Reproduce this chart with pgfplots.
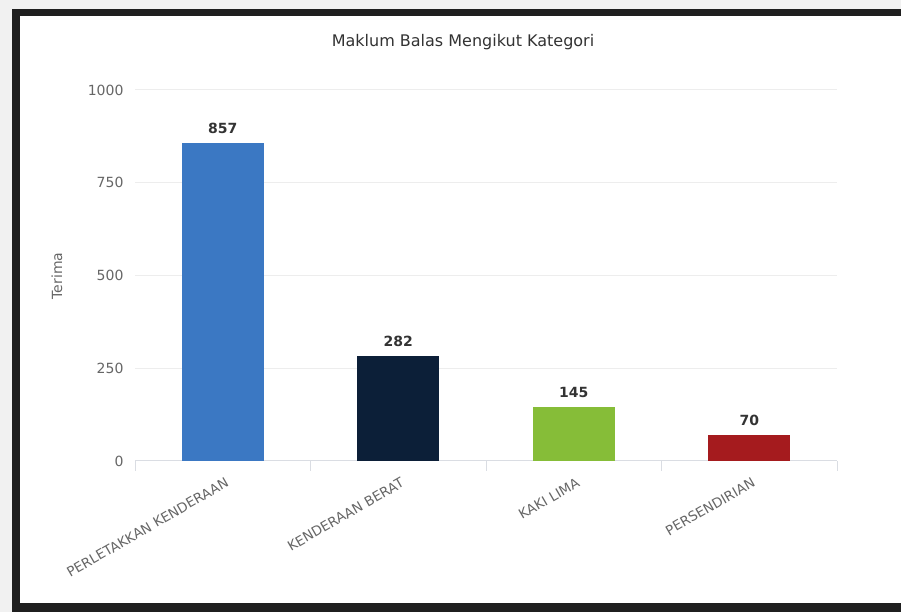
\documentclass[border=0pt]{standalone}
\usepackage{fontspec}
\setmainfont{DejaVu Sans}
\usepackage{pgfplots}
\pgfplotsset{compat=1.18}

\definecolor{outerbg}{HTML}{F1F1F1}
\definecolor{framec}{HTML}{1F1F1F}
\definecolor{gridc}{HTML}{EDEDED}
\definecolor{axisc}{HTML}{DADDE3}
\definecolor{labc}{HTML}{666666}
\definecolor{titlec}{HTML}{333333}
\definecolor{cblue}{HTML}{3B78C3}
\definecolor{cnavy}{HTML}{0C1F38}
\definecolor{cgreen}{HTML}{86BD38}
\definecolor{cred}{HTML}{A51B1E}

\begin{document}
\begin{tikzpicture}[x=1pt,y=1pt]
% frame around the chart
\fill[outerbg] (0,0) rectangle (901,612);
\fill[framec] (12,0) rectangle (901,603);
\fill[white] (20,9) rectangle (901,596);
\useasboundingbox (0,0) rectangle (901,612);

\node[text=titlec, font=\fontsize{16}{19}\selectfont] at (463,570) {Maklum Balas Mengikut Kategori};
\node[text=labc, font=\fontsize{14}{17}\selectfont, rotate=90] at (57,336) {Terima};

\begin{axis}[
    at={(135pt,151pt)}, anchor=south west,
    scale only axis,
    width=702pt, height=371pt,
    xmin=-0.5, xmax=3.5,
    ymin=0, ymax=1000,
    ytick={0,250,500,750,1000},
    xtick={0,1,2,3},
    xticklabels={PERLETAKKAN KENDERAAN, KENDERAAN BERAT, KAKI LIMA, PERSENDIRIAN},
    minor xtick={-0.5,0.5,1.5,2.5,3.5},
    separate axis lines,
    axis x line*=bottom,
    axis y line*=left,
    x axis line style={draw=axisc, line width=1pt, -},
    y axis line style={draw=none},
    ymajorgrids,
    grid style={draw=gridc, line width=1pt},
    tick align=outside,
    major tick length=0pt,
    minor tick length=10pt,
    major x tick style={draw=none},
    minor x tick style={draw=axisc, line width=1pt},
    ytick style={draw=none},
    tick label style={text=labc},
    yticklabel style={font=\fontsize{14}{17}\selectfont, xshift=-8pt},
    xticklabel style={font=\fontsize{13.5}{16}\selectfont, rotate=30, anchor=east, yshift=-20pt, xshift=-3pt},
    /pgf/number format/assume math mode=true,
    /pgf/number format/1000 sep={},
    scaled y ticks=false,
    nodes near coords,
    nodes near coords style={font=\bfseries\fontsize{14}{17}\selectfont, text=titlec, anchor=center, yshift=15pt},
    clip=false,
]
\addplot[ybar, bar width=82pt, bar shift=0pt, fill=cblue, draw=none] coordinates {(0,857)};
\addplot[ybar, bar width=82pt, bar shift=0pt, fill=cnavy, draw=none] coordinates {(1,282)};
\addplot[ybar, bar width=82pt, bar shift=0pt, fill=cgreen, draw=none] coordinates {(2,145)};
\addplot[ybar, bar width=82pt, bar shift=0pt, fill=cred, draw=none] coordinates {(3,70)};
\end{axis}
\end{tikzpicture}
\end{document}
